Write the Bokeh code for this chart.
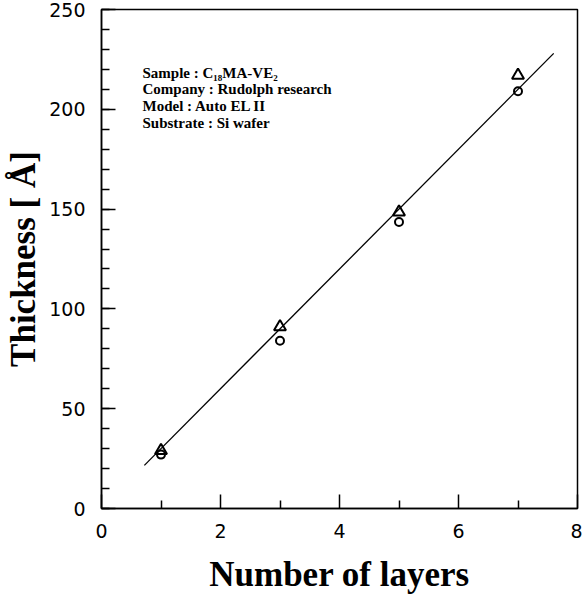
from bokeh.plotting import figure
from bokeh.models import Range1d, Label, FixedTicker
from bokeh.embed import file_html
from bokeh.resources import INLINE

# ---- data ----
layers = [1, 3, 5, 7]
thick_triangle = [29, 91, 148.5, 217]
thick_circle = [27, 84, 143.5, 209]
fit_x = [0.72, 7.6]
fit_y = [21.6, 228.0]
x_ticks = [0, 2, 4, 6, 8]
x_minor = [1, 3, 5, 7]
y_ticks = [0, 50, 100, 150, 200, 250]
y_minor = list(range(0, 251, 10))
info_lines = [
    "Sample : C\u2081\u2088MA-VE\u2082",
    "Company : Rudolph research",
    "Model : Auto EL II",
    "Substrate : Si wafer",
]

p = figure(width=582, height=598, output_backend="svg", toolbar_location=None,
           x_range=Range1d(0, 8), y_range=Range1d(0, 250),
           min_border_left=101, min_border_right=5, min_border_top=9,
           min_border_bottom=90)
p.background_fill_color = "white"
p.border_fill_color = "white"
p.grid.visible = False
p.outline_line_color = "black"
p.outline_line_width = 1.5

serif = "Liberation Serif"
sans = "DejaVu Sans"

for ax in (p.xaxis[0], p.yaxis[0]):
    ax.axis_line_width = 1.5
    ax.major_tick_line_width = 1.5
    ax.minor_tick_line_width = 1.5
    ax.major_tick_in = 14
    ax.major_tick_out = 0
    ax.minor_tick_in = 8
    ax.minor_tick_out = 0
    ax.major_label_text_font = sans
    ax.major_label_text_font_size = "19px"
    ax.major_label_text_color = "black"
    ax.axis_label_text_font = serif
    ax.axis_label_text_font_style = "bold"
    ax.axis_label_text_font_size = "35px"
    ax.axis_label_text_color = "black"

p.xaxis.ticker = FixedTicker(ticks=x_ticks, minor_ticks=x_minor)
p.yaxis.ticker = FixedTicker(ticks=y_ticks, minor_ticks=y_minor)
p.xaxis.axis_label = "Number of layers"
p.yaxis.axis_label = "Thickness [ Å]"
p.xaxis.major_label_standoff = 15
p.yaxis.major_label_standoff = 16
p.xaxis.axis_label_standoff = 14
p.yaxis.axis_label_standoff = 3

p.line(fit_x, fit_y, line_color="black", line_width=1.3)
p.scatter(layers, thick_triangle, marker="triangle", size=12, fill_color=None,
          line_color="black", line_width=2)
p.scatter(layers, thick_circle, marker="circle", size=8, fill_color=None,
          line_color="black", line_width=2)

for i, t in enumerate(info_lines):
    p.add_layout(Label(x=41, y=436 - i * 16.7, x_units="screen", y_units="screen",
                       text=t, text_font=serif, text_font_style="bold",
                       text_font_size="15px", text_color="black",
                       text_baseline="middle"))

open("out.html", "w").write(file_html(p, INLINE))
